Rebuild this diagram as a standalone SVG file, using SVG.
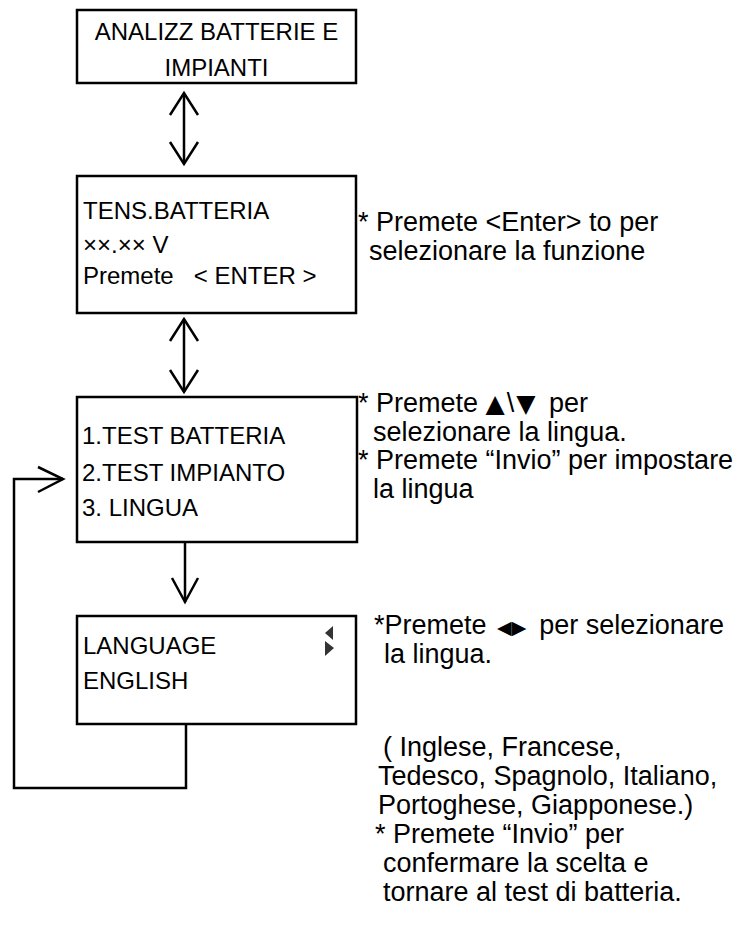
<svg xmlns="http://www.w3.org/2000/svg" width="737" height="934" viewBox="0 0 737 934">
<style>
.box{fill:#fff;stroke:#000;stroke-width:2.5}
.t{font-family:"Liberation Sans",Arial,sans-serif;font-size:24px;fill:#000;white-space:pre}
.n{font-family:"Liberation Sans",Arial,sans-serif;font-size:27px;fill:#000;white-space:pre}
.s{font-family:"DejaVu Sans",sans-serif;font-size:19px}
.u{font-family:"DejaVu Sans",sans-serif;font-size:25px}
.c{fill:none;stroke:#000;stroke-width:2.5}
</style>
<rect width="737" height="934" fill="#fff"/>
<g id="connectors">
<line class="c" x1="184" y1="93" x2="184" y2="164"/>
<polyline class="c" points="170,115 184,93 198,115"/>
<polyline class="c" points="170,142 184,164 198,142"/>
<line class="c" x1="184" y1="319" x2="184" y2="392"/>
<polyline class="c" points="170,341 184,319 198,341"/>
<polyline class="c" points="170,370 184,392 198,370"/>
<line class="c" x1="185" y1="542" x2="185" y2="602"/>
<polyline class="c" points="172,578 185,602 198,578"/>
<polyline class="c" points="186,724 186,788 14,788 14,479 63,479"/>
<polyline class="c" points="38,467 63,479 38,492"/>
</g>
<g id="node1">
<rect class="box" x="77" y="10" width="279" height="73"/>
<text class="t" x="216.5" y="39.5" text-anchor="middle">ANALIZZ BATTERIE E</text>
<text class="t" x="216.5" y="76" text-anchor="middle">IMPIANTI</text>
</g>
<g id="node2">
<rect class="box" x="77" y="176" width="279" height="137"/>
<text class="t" x="83" y="219">TENS.BATTERIA</text>
<text class="t" x="83" y="253">××.×× V</text>
<text class="t" x="83" y="284" xml:space="preserve">Premete   &lt; ENTER &gt;</text>
</g>
<g id="node3">
<rect class="box" x="77" y="397" width="280" height="145"/>
<text class="t" x="82" y="444">1.TEST BATTERIA</text>
<text class="t" x="82" y="481">2.TEST IMPIANTO</text>
<text class="t" x="82" y="516">3. LINGUA</text>
</g>
<g id="node4">
<rect class="box" x="77" y="616" width="279" height="108"/>
<text class="t" x="83" y="654">LANGUAGE</text>
<text class="t" x="83" y="689">ENGLISH</text>
<polygon points="333,626 333,640 325,633" fill="#333"/>
<polygon points="325,641 325,656 334,648" fill="#333"/>
</g>
<g id="notes">
<text class="n" x="358" y="231">* Premete &lt;Enter&gt; to per</text>
<text class="n" x="369" y="260">selezionare la funzione</text>
<text class="n" x="358" y="412">* Premete <tspan class="u">▲</tspan><tspan dx="2">\</tspan><tspan class="u" dx="2">▼</tspan><tspan dx="6"> per</tspan></text>
<text class="n" x="373" y="441">selezionare la lingua.</text>
<text class="n" x="358" y="469">* Premete “Invio” per impostare</text>
<text class="n" x="373" y="498">la lingua</text>
<text class="n" x="374" y="634">*Premete <tspan class="s" dx="3">◀▶</tspan><tspan dx="-2">  per selezionare</tspan></text>
<text class="n" x="384" y="663">la lingua.</text>
<text class="n" x="383" y="756">( Inglese, Francese,</text>
<text class="n" x="378" y="785">Tedesco, Spagnolo, Italiano,</text>
<text class="n" x="378" y="814">Portoghese, Giapponese.)</text>
<text class="n" x="375" y="843">* Premete “Invio” per</text>
<text class="n" x="383" y="872">confermare la scelta e</text>
<text class="n" x="383" y="901">tornare al test di batteria.</text>
</g>
</svg>
